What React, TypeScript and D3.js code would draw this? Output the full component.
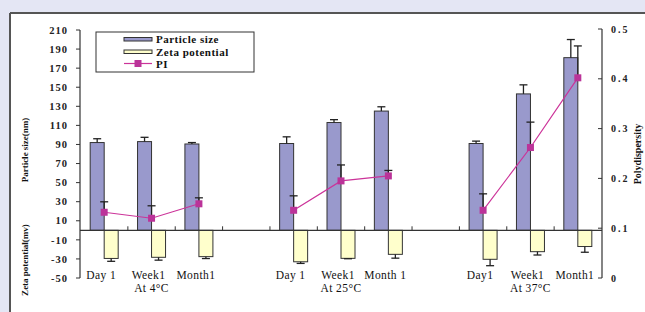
import React from "react";
import * as d3 from "d3";

const slots = ["4-D1", "4-W1", "4-M1", "gap1", "25-D1", "25-W1", "25-M1", "gap2", "37-D1", "37-W1", "37-M1"];
const pointSlots = ["4-D1", "4-W1", "4-M1", "25-D1", "25-W1", "25-M1", "37-D1", "37-W1", "37-M1"];
const pointLabels = ["Day 1", "Week1", "Month1", "Day 1", "Week1", "Month 1", "Day1", "Week1", "Month1"];
const groupLabels = ["At 4°C", "At 25°C", "At 37°C"];
const groupSlots = ["4-W1", "25-W1", "37-W1"];
const groupOf = [0, 0, 0, 1, 1, 1, 2, 2, 2];

const particleSize = [92, 93, 90.5, 91, 113, 125, 91, 143, 181];
const particleErr = [4, 4.5, 1.5, 7, 3, 4.5, 2.5, 9.5, 19];
const zeta = [-29.5, -28.3, -27.6, -33, -29.4, -25.2, -30.4, -22.4, -17];
const zetaErr = [3, 3, 2, 1.7, 0.4, 4, 6.7, 3.5, 6];
const pi = [0.132, 0.12, 0.149, 0.136, 0.195, 0.205, 0.136, 0.262, 0.402];
const piErr = [0.021, 0.025, 0.012, 0.029, 0.032, 0.011, 0.033, 0.051, 0.064];

const leftTicks = [-50, -30, -10, 10, 30, 50, 70, 90, 110, 130, 150, 170, 190, 210];
const rightTicks = [0, 0.1, 0.2, 0.3, 0.4, 0.5];
const seriesNames = ["Particle size", "Zeta potential", "PI"];

const W = 645, H = 312;
const AX = "#333";
const PURPLE = "#9999cc";
const YELLOW = "#ffffcc";
const MAGENTA = "#cc3399";
const FONT = "'Liberation Serif', 'DejaVu Serif', serif";

export default function App() {
  const x = d3.scaleBand<string>().domain(slots).range([80.5, 601.5]).padding(0);
  const bw = x.bandwidth();
  const x1 = d3.scaleBand<string>().domain(["p", "z"]).range([bw / 2 - 14, bw / 2 + 14]).padding(0);
  const yL = d3.scaleLinear().domain([-50, 210]).range([278, 30]);
  const yR = d3.scaleLinear().domain([0, 0.5]).range([278, 29]);
  const y0 = yL(0);
  const cx = (i: number) => (x(pointSlots[i]) as number) + bw / 2;
  const line = d3.line<number>().x((i) => cx(i)).y((i) => yR(pi[i]));
  const groups = [0, 1, 2].map((g) => pointSlots.map((_, i) => i).filter((i) => groupOf[i] === g));
  const cap = 4;

  return (
    <svg width={W} height={H} style={{ position: "absolute", left: 0, top: 0 }} fontFamily={FONT}>
      <rect x={0} y={0} width={W} height={H} fill="#e4e6f4" />
      <rect x={10} y={13} width={W} height={H} fill="#ffffff" />
      <line x1={10} y1={13} x2={W} y2={13} stroke="#555" strokeWidth={2} />
      <line x1={10} y1={13} x2={10} y2={H} stroke="#555" strokeWidth={2} />

      {/* bars */}
      {pointSlots.map((s, i) => {
        const xp = (x(s) as number) + (x1("p") as number);
        const xz = (x(s) as number) + (x1("z") as number);
        return (
          <g key={s}>
            <rect x={xp} y={yL(particleSize[i])} width={x1.bandwidth()} height={y0 - yL(particleSize[i])} fill={PURPLE} stroke={AX} strokeWidth={1} />
            <rect x={xz} y={y0} width={x1.bandwidth()} height={yL(zeta[i]) - y0} fill={YELLOW} stroke={AX} strokeWidth={1} />
          </g>
        );
      })}

      {/* x axis */}
      <line x1={80} y1={y0} x2={602} y2={y0} stroke={AX} strokeWidth={1.2} />
      {slots.slice(1).map((s) => (
        <line key={"xt" + s} x1={x(s) as number} x2={x(s) as number} y1={y0} y2={y0 - 4} stroke={AX} strokeWidth={1} />
      ))}

      {/* error bars */}
      {pointSlots.map((s, i) => {
        const xpc = (x(s) as number) + (x1("p") as number) + x1.bandwidth() / 2;
        const xzc = (x(s) as number) + (x1("z") as number) + x1.bandwidth() / 2;
        const pt = yL(particleSize[i] + particleErr[i]);
        const zb = yL(zeta[i] - zetaErr[i]);
        return (
          <g key={"e" + s} stroke="#222" strokeWidth={1.3}>
            <line x1={xpc} x2={xpc} y1={yL(particleSize[i])} y2={pt} />
            <line x1={xpc - cap} x2={xpc + cap} y1={pt} y2={pt} />
            <line x1={xzc} x2={xzc} y1={yL(zeta[i])} y2={zb} />
            <line x1={xzc - cap} x2={xzc + cap} y1={zb} y2={zb} />
          </g>
        );
      })}

      {/* PI */}
      {groups.map((g, k) => (
        <path key={"l" + k} d={line(g) as string} fill="none" stroke={MAGENTA} strokeWidth={1.2} />
      ))}
      {pointSlots.map((s, i) => {
        const c = cx(i);
        const t = yR(pi[i] + piErr[i]);
        return (
          <g key={"pi" + s}>
            <line x1={c} x2={c} y1={yR(pi[i])} y2={t} stroke="#222" strokeWidth={1.3} />
            <line x1={c - cap} x2={c + cap} y1={t} y2={t} stroke="#222" strokeWidth={1.3} />
            <rect x={c - 3.5} y={yR(pi[i]) - 3.5} width={7} height={7} fill="#bb3399" />
          </g>
        );
      })}

      {/* left axis */}
      <line x1={80} x2={80} y1={yL(-50)} y2={yL(210)} stroke={AX} strokeWidth={1.2} />
      {leftTicks.map((v) => (
        <g key={"lt" + v}>
          <line x1={76} x2={80} y1={yL(v)} y2={yL(v)} stroke={AX} strokeWidth={1} />
          <text x={68} y={yL(v)} dy="0.35em" textAnchor="end" fontSize={10.5} fontWeight="bold" letterSpacing={1} fill="#222">
            {v}
          </text>
        </g>
      ))}

      {/* right axis */}
      <line x1={602} x2={602} y1={yR(0)} y2={yR(0.5)} stroke={AX} strokeWidth={1.2} />
      {rightTicks.map((v) => (
        <g key={"rt" + v}>
          <line x1={598} x2={602} y1={yR(v)} y2={yR(v)} stroke={AX} strokeWidth={1} />
          <text x={611} y={yR(v)} dy="0.35em" textAnchor="start" fontSize={10} fontWeight="bold" letterSpacing={2} fill="#222">
            {v === 0 ? "0" : d3.format(".1f")(v)}
          </text>
        </g>
      ))}

      {/* category labels */}
      {pointSlots.map((s, i) => (
        <text key={"cl" + s} x={cx(i) - 3} y={278.5} textAnchor="middle" fontSize={11.5} letterSpacing={0.4} fill="#111">
          {pointLabels[i]}
        </text>
      ))}
      {groupSlots.map((s, g) => (
        <text key={"gl" + s} x={(x(s) as number) + bw / 2} y={291.5} textAnchor="middle" fontSize={11.5} letterSpacing={0.4} fill="#111">
          {groupLabels[g]}
        </text>
      ))}

      {/* axis titles */}
      <text transform="translate(28,150) rotate(-90)" textAnchor="middle" fontSize={9} fontWeight="bold" fill="#111">
        Particle size(nm)
      </text>
      <text transform="translate(28,260) rotate(-90)" textAnchor="middle" fontSize={9} fontWeight="bold" fill="#111">
        Zeta potential(mv)
      </text>
      <text transform="translate(641,154) rotate(-90)" textAnchor="middle" fontSize={10} fontWeight="bold" fill="#111">
        Polydispersity
      </text>

      {/* legend */}
      <rect x={96} y={32} width={158} height={40} fill="#fff" stroke={AX} strokeWidth={1} />
      <rect x={124} y={37.5} width={28} height={3.5} fill={PURPLE} stroke={AX} strokeWidth={1} />
      <text x={156} y={43} fontSize={11} fontWeight="bold" letterSpacing={0.5} fill="#111">{seriesNames[0]}</text>
      <rect x={124} y={50} width={28} height={3.5} fill={YELLOW} stroke={AX} strokeWidth={1} />
      <text x={156} y={55.5} fontSize={11} fontWeight="bold" letterSpacing={0.5} fill="#111">{seriesNames[1]}</text>
      <line x1={124} x2={152} y1={63.5} y2={63.5} stroke={MAGENTA} strokeWidth={1.2} />
      <rect x={134.5} y={60} width={7} height={7} fill="#bb3399" />
      <text x={156} y={67.5} fontSize={11} fontWeight="bold" letterSpacing={0.5} fill="#111">{seriesNames[2]}</text>
    </svg>
  );
}
